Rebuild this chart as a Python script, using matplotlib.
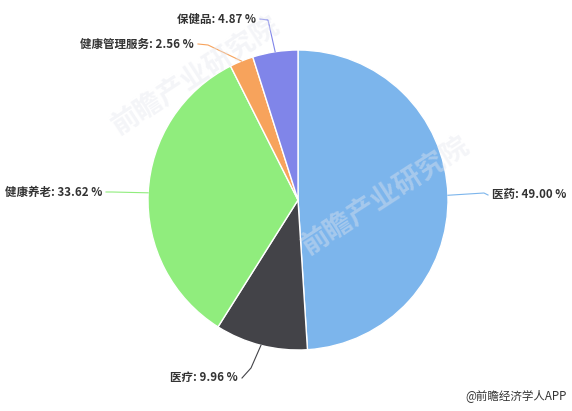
import matplotlib
matplotlib.use("Agg")
import matplotlib.pyplot as plt
import numpy as np

plt.rcParams['font.family'] = ['Noto Sans CJK SC', 'DejaVu Sans']

categories = ['医药', '医疗', '健康养老', '健康管理服务', '保健品']
shares = [49.00, 9.96, 33.62, 2.56, 4.87]
colors = ['#7cb5ec', '#434348', '#90ed7d', '#f7a35c', '#8085e9']

W, H = 572, 411
fig = plt.figure(figsize=(W / 100, H / 100), dpi=100)
ax = fig.add_axes([0, 0, 1, 1])
ax.set_xlim(0, W)
ax.set_ylim(0, H)
ax.set_aspect('equal')
ax.axis('off')

cx, cy, r = 298, H - 200, 150

# faint watermark
for (x, y) in [(195, H - 75), (385, H - 195)]:
    ax.text(x, y, '前瞻产业研究院', fontsize=20, fontweight='bold', color='#e4e6ee',
            alpha=0.4, rotation=33, ha='center', va='center', zorder=5)

wedges, _ = ax.pie(shares, colors=colors, startangle=90, counterclock=False,
                   center=(cx, cy), radius=r,
                   wedgeprops=dict(edgecolor='white', linewidth=1.0))
ax.set_xlim(0, W)
ax.set_ylim(0, H)

# label endpoints (elbow point, text anchor, alignment)
label_layout = {
    '医药': ((484, H - 193), (492, H - 195), 'left'),
    '医疗': ((251, H - 368), (238, H - 378), 'right'),
    '健康养老': ((112, H - 192), (102, H - 192), 'right'),
    '健康管理服务': ((208, H - 45), (194, H - 44), 'right'),
    '保健品': ((268, H - 20), (256, H - 19), 'right'),
}

total = sum(shares)
start = 90.0
for name, val, col in zip(categories, shares, colors):
    sweep = val / total * 360
    mid = np.deg2rad(start - sweep / 2)
    start -= sweep
    px, py = cx + r * np.cos(mid), cy + r * np.sin(mid)
    (ex, ey), (tx, ty), ha = label_layout[name]
    ax.plot([px, ex, tx + (4 if ha == 'right' else -4)], [py, ey, ty],
            color=col, lw=0.8, zorder=3)
    ax.text(tx, ty, f'{name}: {val:.2f} %', ha=ha, va='center', fontsize=8.3,
            fontweight='bold', color='#333333')

ax.text(567, H - 396, '@前瞻经济学人APP', ha='right', va='center', fontsize=8.3,
        color='#333333')

fig.savefig('out.png', dpi=100, facecolor='white')
